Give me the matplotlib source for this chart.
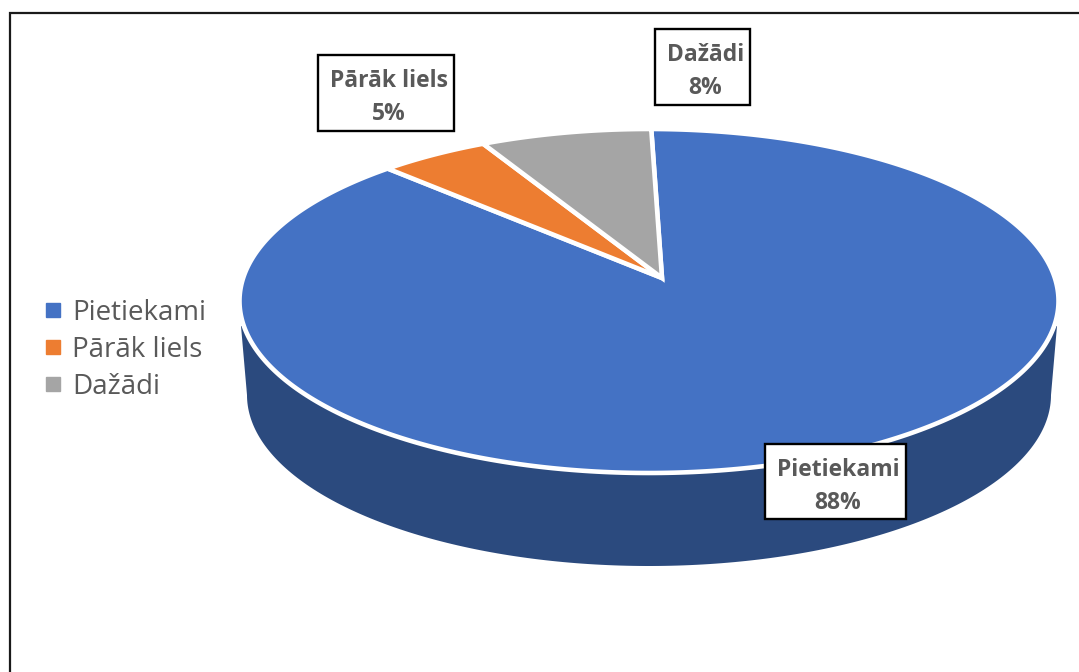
import numpy as np
import matplotlib
matplotlib.use("Agg")
import matplotlib.pyplot as plt
from matplotlib.lines import Line2D
from matplotlib.patches import Rectangle

categories = ["Pietiekami", "Pārāk liels", "Dažādi"]
values = [87.6, 4.8, 7.6]
colors = ["#4472C4", "#ED7D31", "#A5A5A5"]
side_color = "#2B4A7E"
text_color = "#595959"

plt.rcParams["font.family"] = ["Open Sans", "DejaVu Sans"]

W, H = 1079, 672
fig = plt.figure(figsize=(W / 100, H / 100), dpi=100)
ax = fig.add_axes([0, 0, 1, 1])
ax.set_xlim(0, W)
ax.set_ylim(H, 0)
ax.axis("off")

# geometry of the tilted, perspective pie (pixels)
CX, CY, RX, RY = 649, 301, 409.5, 172
APEX = np.array([662.0, 278.0])
START = -1.6


def project(theta_deg):
    """Clockwise angle from 12 o'clock -> pixel position on the perspective disc."""
    t = np.radians(np.asarray(theta_deg, float))
    v = np.stack([np.sin(t), np.cos(t)], axis=-1)
    p = np.array([(APEX[0] - CX) / RX, (CY - APEX[1]) / RY])
    n = np.linalg.norm(p)
    ph = p / n
    par = (v @ ph)[..., None] * ph
    perp = v - par
    q = (p + par + np.sqrt(1 - n ** 2) * perp) / (1 + v @ p)[..., None]
    return np.stack([CX + RX * q[..., 0], CY - RY * q[..., 1]], axis=-1)


# extruded side
t = np.linspace(90, 270, 200)
bx = 649 + 402 * np.sin(np.radians(t))
by = 395 - 171 * np.cos(np.radians(t))
ax.fill(np.r_[1057, bx, 241], np.r_[326, by, 326], color=side_color, lw=0, zorder=1)

# top face
fractions = np.array(values, float) / sum(values)
bounds = START + 360 * np.r_[0, np.cumsum(fractions)]
for i, col in enumerate(colors):
    pts = project(np.linspace(bounds[i], bounds[i + 1], 400))
    xy = np.vstack([APEX, pts])
    ax.fill(xy[:, 0], xy[:, 1], facecolor=col, edgecolor="white", lw=3.3,
            joinstyle="miter", zorder=2)

# data labels
boxes = [(764.5, 443.5, 141, 75.5), (317.5, 54.5, 136, 76), (654.5, 28.5, 95.5, 76)]
for name, val, (x, y, w, h) in zip(categories, values, boxes):
    ax.add_patch(Rectangle((x, y), w, h, facecolor="white", edgecolor="black", lw=1.7, zorder=5))
    ax.text(x + w / 2 + 3, y + h / 2 + 5, f"{name}\n{val:.0f}%", ha="center", va="center", fontsize=16.5,
            fontweight="bold", color=text_color, linespacing=1.5, zorder=6)

# legend
handles = [Line2D([], [], marker="s", ls="", ms=9.5, color=c) for c in colors]
ax.legend(handles, categories, loc="center left", bbox_to_anchor=(25 / W, 1 - 350 / H), frameon=False,
          fontsize=20, labelcolor=text_color, labelspacing=0.33, handlelength=1.0,
          handletextpad=0.2, borderpad=0)

# chart frame (top and left visible)
ax.plot([9.5, 9.5, W], [H, 12.5, 12.5], color="#1a1a1a", lw=1.6, zorder=7, solid_joinstyle="miter")

fig.savefig("out.png", dpi=100)
